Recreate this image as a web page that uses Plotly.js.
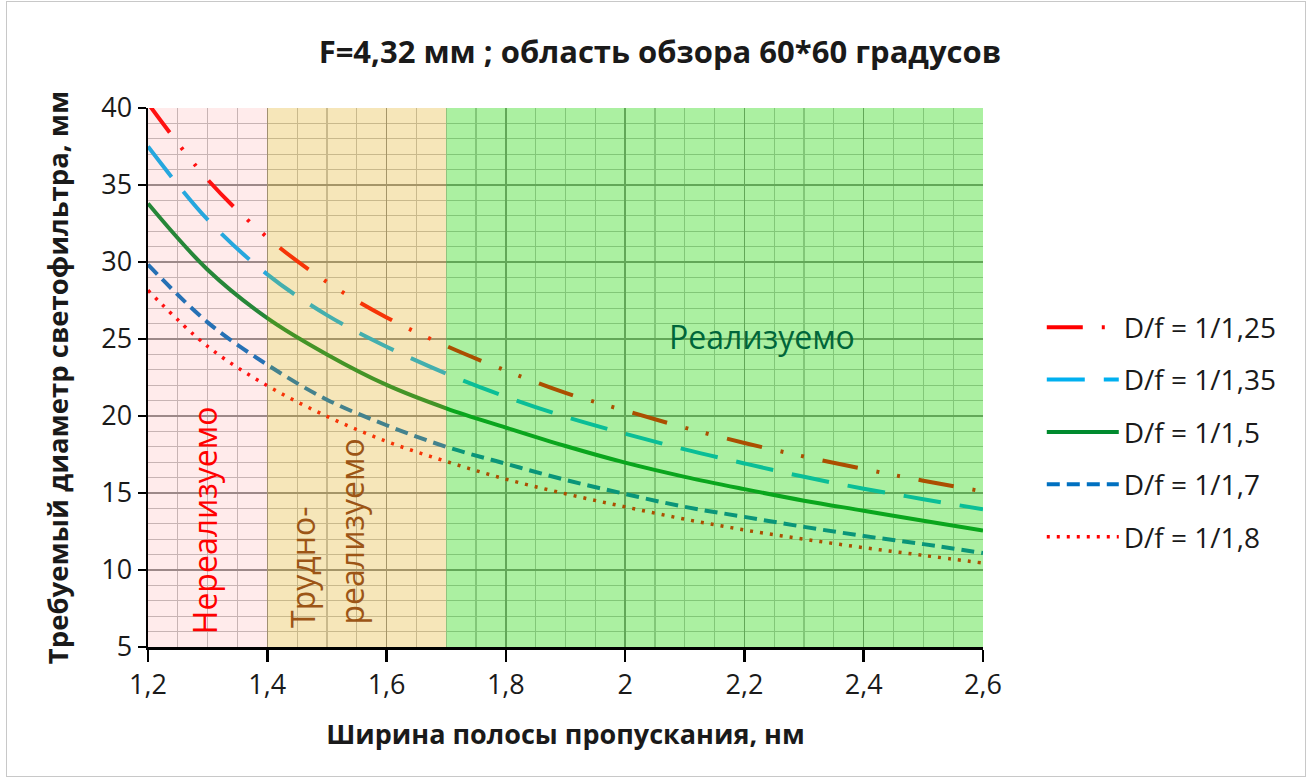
<!DOCTYPE html>
<html>
<head>
<meta charset="utf-8">
<script src="https://cdn.plot.ly/plotly-3.0.1.min.js"></script>
<style>
  html, body { margin: 0; padding: 0; background: #ffffff; }
  #chart { width: 1312px; height: 780px; }
  #frame { position: absolute; left: 6px; top: 1px; width: 1298px; height: 774px;
           border: 1.5px solid #C8C8C8; pointer-events: none; }
</style>
</head>
<body>
<div id="chart"></div>
<div id="frame"></div>
<script>
// ---- data ----
const bandwidth = [1.2, 1.3, 1.4, 1.5, 1.6, 1.7, 1.8, 1.9, 2.0, 2.1, 2.2, 2.3, 2.4, 2.5, 2.6];
const diam125 = [40.3, 35.35, 31.6, 28.7, 26.4, 24.55, 22.95, 21.5, 20.35, 19.24, 18.25, 17.37, 16.56, 15.8, 15.1];
const diam135 = [37.5, 32.75, 29.2, 26.55, 24.5, 22.75, 21.25, 19.95, 18.85, 17.83, 16.92, 16.05, 15.28, 14.6, 13.94];
const diam150 = [33.8, 29.5, 26.36, 24.0, 22.02, 20.5, 19.25, 18.05, 16.97, 16.05, 15.25, 14.5, 13.85, 13.2, 12.56];
const diam170 = [29.83, 26.08, 23.33, 21.06, 19.4, 18.0, 16.9, 15.85, 14.94, 14.1, 13.45, 12.8, 12.21, 11.68, 11.1];
const diam180 = [28.16, 24.52, 21.97, 19.98, 18.35, 17.05, 15.9, 14.95, 14.1, 13.3, 12.6, 12.0, 11.45, 10.95, 10.45];
const seriesNames = ["D/f = 1/1,25", "D/f = 1/1,35", "D/f = 1/1,5", "D/f = 1/1,7", "D/f = 1/1,8"];
const regionBounds = [1.2, 1.4, 1.7, 2.6];
const regionLabels = ["Нереализуемо", "Трудно-", "реализуемо", "Реализуемо"];
const chartTitle = "F=4,32 мм ; область обзора 60*60 градусов";
const xTitle = "Ширина полосы пропускания, нм";
const yTitle = "Требуемый диаметр светофильтра, мм";

const FONT = "'Open Sans', 'DejaVu Sans', sans-serif";

const styles = [
  { color: "#FF0000", dash: "36px,19px,3px,18px,3px,19px", width: 4 },
  { color: "#00B0F0", dash: "38px,19px", width: 4 },
  { color: "#008A2E", dash: "solid", width: 4 },
  { color: "#0070C0", dash: "13px,7px", width: 4 },
  { color: "#FF0000", dash: "3px,7px", width: 3.5 }
];
const allSeries = [diam125, diam135, diam150, diam170, diam180];

const traces = allSeries.map((ys, i) => ({
  type: "scatter",
  mode: "lines",
  x: bandwidth,
  y: ys,
  name: seriesNames[i],
  legendgroup: "g" + i,
  line: { color: styles[i].color, dash: styles[i].dash, width: styles[i].width, shape: "spline", smoothing: 1 },
  hoverinfo: "x+y+name"
}));

const overlay = [
  { fill: "rgba(255,120,120,0.15)" },
  { fill: "rgba(225,172,22,0.30)" },
  { fill: "rgba(28,215,0,0.37)" }
];
const shapes = overlay.map((o, i) => ({
  type: "rect", xref: "x", yref: "paper",
  x0: regionBounds[i], x1: regionBounds[i + 1], y0: 0, y1: 1,
  fillcolor: o.fill, line: { width: 0 }, layer: "above"
}));

const annotations = [
  { x: 1.296, y: 13.25, text: regionLabels[0], textangle: -90, font: { family: FONT, size: 32, color: "#FF0000" } },
  { x: 1.458, y: 10.19, text: regionLabels[1], textangle: -90, font: { family: FONT, size: 32, color: "#9C5516" } },
  { x: 1.542, y: 12.5, text: regionLabels[2], textangle: -90, font: { family: FONT, size: 32, color: "#9C5516" } },
  { x: 2.229, y: 25.19, text: regionLabels[3], textangle: 0, font: { family: FONT, size: 32, color: "#00663A" } }
].map(a => Object.assign({ xref: "x", yref: "y", showarrow: false, xanchor: "center", yanchor: "middle" }, a));

const layout = {
  width: 1312, height: 780,
  margin: { l: 148, r: 329, t: 108, b: 133 },
  paper_bgcolor: "#ffffff", plot_bgcolor: "#ffffff",
  separators: ", ",
  font: { family: FONT, color: "#1a1a1a" },
  title: { text: chartTitle, font: { family: FONT, size: 31, color: "#1a1a1a", weight: "bold" },
           x: 0.503, xref: "container", xanchor: "center", y: 0.933, yanchor: "middle" },
  xaxis: {
    range: [1.2, 2.6], dtick: 0.2, tick0: 1.2, showgrid: true, gridcolor: "#8C8C8C", gridwidth: 1.3,
    minor: { dtick: 0.05, showgrid: true, gridcolor: "#BFBFBF", gridwidth: 1.2 },
    showline: true, linecolor: "#000", linewidth: 2.5, ticks: "outside", ticklen: 12, tickwidth: 2.5, tickcolor: "#000",
    zeroline: false, tickfont: { family: FONT, size: 27, color: "#1a1a1a" },
    title: { text: xTitle, font: { family: FONT, size: 27, color: "#1a1a1a", weight: "bold" }, standoff: 24 }
  },
  yaxis: {
    range: [5, 40], dtick: 5, tick0: 5, showgrid: true, gridcolor: "#8C8C8C", gridwidth: 1.3,
    minor: { dtick: 1, showgrid: true, gridcolor: "#BFBFBF", gridwidth: 1.2 },
    showline: true, linecolor: "#000", linewidth: 2.5, ticks: "outside", ticklen: 8, tickwidth: 2.5, tickcolor: "#000",
    zeroline: false, tickfont: { family: FONT, size: 27, color: "#1a1a1a" },
    title: { text: yTitle, font: { family: FONT, size: 27.5, color: "#1a1a1a", weight: "bold" }, standoff: 25 }
  },
  showlegend: true,
  legend: {
    x: 1.0704, xanchor: "left", y: 0.399, yanchor: "middle",
    font: { family: FONT, size: 28, color: "#1a1a1a" },
    bgcolor: "rgba(0,0,0,0)", tracegroupgap: 13, itemwidth: 72
  },
  shapes: shapes,
  annotations: annotations
};

Plotly.newPlot("chart", traces, layout, { displayModeBar: false, staticPlot: true });
</script>
</body>
</html>
